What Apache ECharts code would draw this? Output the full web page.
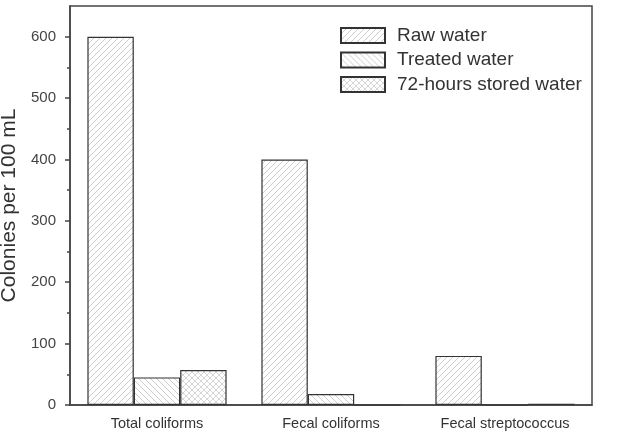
<!DOCTYPE html>
<html>
<head>
<meta charset="utf-8">
<script src="https://cdn.jsdelivr.net/npm/echarts@6/dist/echarts.min.js"></script>
<style>
  html, body { margin: 0; padding: 0; background: #fff; }
  #main { width: 624px; height: 437px; }
</style>
</head>
<body>
<div id="main"></div>
<script>
const categories = ['Total coliforms', 'Fecal coliforms', 'Fecal streptococcus']
const rawWater = [600, 400, 80]
const treatedWater = [45, 18, 0]
const storedWater = [57, 0, 2]
const yTicks = [0, 100, 200, 300, 400, 500, 600]
const yMinorTicks = [50, 150, 250, 350, 450, 550]

// hatch fill for the bars
const makePattern = (kind) => {
  const s = 6
  const c = document.createElement('canvas')
  c.width = s
  c.height = s
  const ctx = c.getContext('2d')
  ctx.fillStyle = '#fff'
  ctx.fillRect(0, 0, s, s)
  ctx.strokeStyle = kind === 'cross' ? '#d6d6d6' : '#cdcdcd'
  ctx.lineWidth = 1
  const fwd = () => {
    ctx.beginPath()
    ctx.moveTo(0, s); ctx.lineTo(s, 0)
    ctx.moveTo(-1, 1); ctx.lineTo(1, -1)
    ctx.moveTo(s - 1, s + 1); ctx.lineTo(s + 1, s - 1)
    ctx.stroke()
  }
  const back = () => {
    ctx.beginPath()
    ctx.moveTo(0, 0); ctx.lineTo(s, s)
    ctx.moveTo(s - 1, -1); ctx.lineTo(s + 1, 1)
    ctx.moveTo(-1, s - 1); ctx.lineTo(1, s + 1)
    ctx.stroke()
  }
  if (kind === 'fwd') fwd()
  if (kind === 'back') back()
  if (kind === 'cross') { fwd(); back() }
  return { image: c, repeat: 'repeat' }
}

const barStyle = (kind) => ({
  color: makePattern(kind),
  borderColor: '#333',
  borderWidth: 1.2,
})

const chart = echarts.init(document.getElementById('main'))
const font = 'Liberation Sans, Arial, sans-serif'
const axisColor = '#444'

chart.setOption({
  animation: false,
  textStyle: { fontFamily: font },
  grid: {
    left: 70, right: 32, top: 6, bottom: 32,
    outerBoundsMode: 'none',
    show: true, borderColor: axisColor, borderWidth: 1.5,
  },
  legend: {
    orient: 'vertical',
    left: 340,
    top: 26,
    padding: 0,
    icon: 'rect',
    itemWidth: 44,
    itemHeight: 15,
    itemGap: 5.5,
    textStyle: { fontFamily: font, fontSize: 19, lineHeight: 18, color: '#333', padding: [0, 0, 0, 7] },
    data: ['Raw water', 'Treated water', '72-hours stored water'],
  },
  xAxis: [
    {
      type: 'category',
      data: categories,
      axisLine: { lineStyle: { color: axisColor, width: 1.5 } },
      axisTick: { alignWithLabel: true, length: 6, lineStyle: { color: axisColor, width: 1.5 } },
      axisLabel: { fontFamily: font, fontSize: 14.5, color: '#333', margin: 11 },
    },
    {
      type: 'category',
      data: categories,
      position: 'bottom',
      axisLine: { show: false },
      axisTick: { length: 3, lineStyle: { color: axisColor, width: 1.5 } },
      axisLabel: { show: false },
    },
  ],
  yAxis: [
    {
      type: 'value',
      min: 0,
      max: 650,
      interval: 100,
      name: 'Colonies per 100 mL',
      nameLocation: 'middle',
      nameGap: 44,
      nameTextStyle: { fontFamily: font, fontSize: 21, color: '#333' },
      splitLine: { show: false },
      axisLine: { show: true, lineStyle: { color: axisColor, width: 1.5 } },
      axisTick: { show: true, length: 5, customValues: yTicks, lineStyle: { color: axisColor, width: 1.5 } },
      axisLabel: { customValues: yTicks, fontFamily: font, fontSize: 15, color: '#444', margin: 14 },
    },
    {
      type: 'value',
      min: 0,
      max: 650,
      position: 'left',
      splitLine: { show: false },
      axisLine: { show: false },
      axisTick: { show: true, length: 3, customValues: yMinorTicks, lineStyle: { color: axisColor, width: 1.5 } },
      axisLabel: { show: false },
    },
  ],
  series: [
    { name: 'Raw water', type: 'bar', data: rawWater, barGap: '0%', barCategoryGap: '20%', itemStyle: barStyle('fwd') },
    { name: 'Treated water', type: 'bar', data: treatedWater, itemStyle: barStyle('back') },
    { name: '72-hours stored water', type: 'bar', data: storedWater, itemStyle: barStyle('cross') },
  ],
})
</script>
</body>
</html>
